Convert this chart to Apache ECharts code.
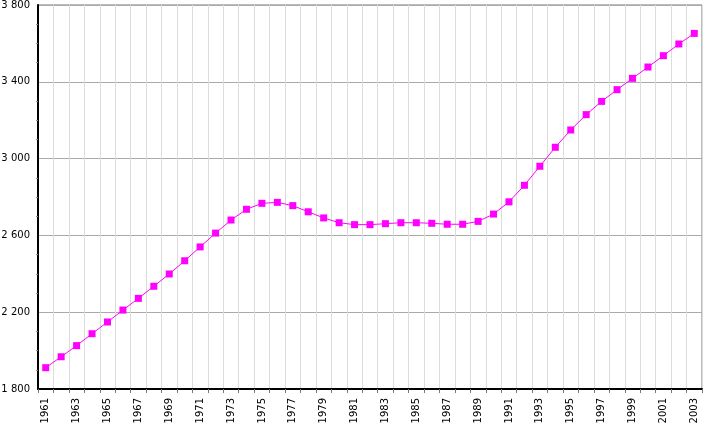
<!DOCTYPE html>
<html>
<head>
<meta charset="utf-8">
<script src="https://cdn.jsdelivr.net/npm/echarts@6/dist/echarts.min.js"></script>
<style>
html,body{margin:0;padding:0;background:#fff;}
#chart{width:725px;height:426px;}
</style>
</head>
<body>
<div id="chart"></div>
<script>
var years = [];
for (var y = 1961; y <= 2003; y++) { years.push(String(y)); }

var values = [
	1911, 1968, 2026, 2088, 2149, 2211, 2272, 2335, 2399, 2468,
	2540, 2612, 2680, 2736, 2767, 2772, 2755, 2723, 2691, 2666,
	2656, 2656, 2661, 2666, 2666, 2663, 2658, 2658, 2673, 2711,
	2775, 2861, 2960, 3059, 3149, 3229, 3298, 3359, 3418, 3477,
	3536, 3597, 3652
];

var yMin = 1800, yMax = 3800, yStep = 400;

function fmtNum(v){
	return String(v).replace(/\B(?=(\d{3})+(?!\d))/g, ' ');
}

var myChart = echarts.init(document.getElementById('chart'));
var option = {
	animation: false,
	grid: {
		left: 38, right: 23, top: 5, bottom: 37,
		outerBoundsMode: 'none',
		containLabel: false,
		show: true, borderColor: '#777', borderWidth: 1
	},
	xAxis: {
		type: 'category',
		data: years,
		boundaryGap: true,
		axisLine: {lineStyle: {color: '#000', width: 2}},
		axisTick: {show: true, interval: 0, length: 4, lineStyle: {color: '#777'}},
		axisLabel: {
			interval: 1, rotate: 90, color: '#000', margin: 9,
			fontFamily: 'DejaVu Sans', fontSize: 10
		},
		splitLine: {show: true, interval: 0, lineStyle: {color: '#dcdcdc', width: 1}}
	},
	yAxis: {
		type: 'value',
		min: yMin, max: yMax, interval: yStep,
		axisLine: {show: true, lineStyle: {color: '#000', width: 2}},
		axisTick: {show: false},
		minorTick: {show: true, splitNumber: 4, length: 2, lineStyle: {color: '#888'}},
		axisLabel: {
			color: '#000', margin: 8, fontFamily: 'DejaVu Sans', fontSize: 10,
			formatter: function(v){ return fmtNum(v); }
		},
		splitLine: {show: true, lineStyle: {color: '#aaa', width: 1}}
	},
	series: [{
		type: 'line',
		data: values,
		symbol: 'rect',
		symbolSize: 7,
		itemStyle: {color: '#ff00ff'},
		lineStyle: {color: '#ff00ff', width: 1}
	}]
};
myChart.setOption(option);
</script>
</body>
</html>
